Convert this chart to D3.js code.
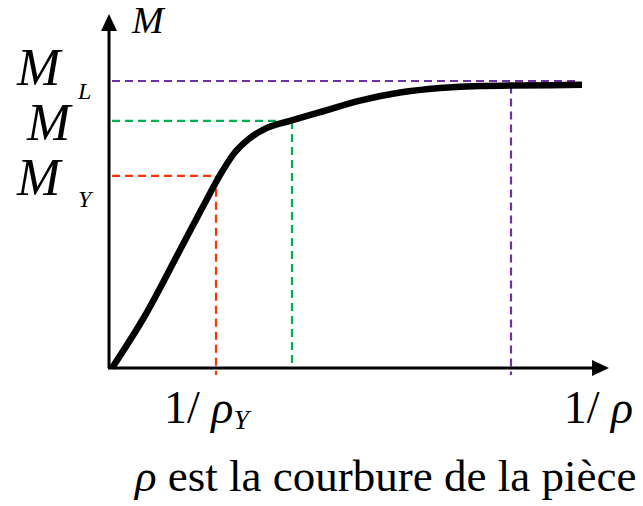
<!DOCTYPE html>
<html>
<head>
<meta charset="utf-8">
<script src="https://cdn.jsdelivr.net/npm/d3@7"></script>
<style>
  body { margin: 0; background: #fff; }
</style>
</head>
<body>
<div id="chart-area"><svg></svg></div>
<script>
const chartSize = { width: 643, height: 506 };

// curve: 1/rho (arbitrary units) vs M (arbitrary units)
const curvature = [0.6, 6.8, 14.2, 19.6, 22.2, 24.8, 28.2, 31.6, 36.2, 42.2, 50.2, 58.2, 66.2, 74.2, 80.4, 94.6];
const moment = [0, 14, 33.7, 48.3, 55.1, 60.9, 65.7, 68.6, 70.6, 73.1, 76.4, 78.7, 80, 80.6, 80.7, 80.9];

// guide lines: yield point, intermediate point, limit moment
const guideNames = ['Y', 'M', 'L'];
const guideX = [21.4, 36.6, 80.4];
const guideY = [54.9, 70.6, 82];
const guideColors = ['#ff3300', '#00b050', '#7030a0'];
const limitEndX = 94.2;

const drawChart = () => {
    const svg = d3.select('#chart-area svg')
        .attr('width', chartSize.width)
        .attr('height', chartSize.height)
        .attr('font-family', '"Liberation Serif", serif');

    const x = d3.scaleLinear().domain([0, 100]).range([109, 609]);
    const y = d3.scaleLinear().domain([0, 100]).range([368, 18]);

    // dashed guides
    guideNames.forEach((name, i) => {
        const endX = name == 'L' ? limitEndX : guideX[i];
        svg.append('line')
            .attr('x1', x(0) + 3).attr('x2', x(endX))
            .attr('y1', y(guideY[i])).attr('y2', y(guideY[i]))
            .attr('stroke', guideColors[i]).attr('stroke-width', 2.2)
            .attr('stroke-dasharray', '8,5');
        const topY = name == 'L' ? y(80.7) : y(guideY[i]);
        svg.append('line')
            .attr('x1', x(guideX[i])).attr('x2', x(guideX[i]))
            .attr('y1', topY).attr('y2', name == 'M' ? y(0) : y(0) + 7)
            .attr('stroke', guideColors[i]).attr('stroke-width', 2.2)
            .attr('stroke-dasharray', '8,5');
    });

    // axes with arrows
    svg.append('line')
        .attr('x1', x(0)).attr('x2', x(0))
        .attr('y1', y(0)).attr('y2', 28)
        .attr('stroke', '#000').attr('stroke-width', 3);
    svg.append('path')
        .attr('d', `M${x(0)},14 L${x(0) - 8},31 L${x(0) + 8},31 Z`)
        .attr('fill', '#000');
    svg.append('line')
        .attr('x1', x(0) - 1).attr('x2', 594)
        .attr('y1', y(0)).attr('y2', y(0))
        .attr('stroke', '#000').attr('stroke-width', 3);
    svg.append('path')
        .attr('d', `M609,${y(0)} L592,${y(0) - 8} L592,${y(0) + 8} Z`)
        .attr('fill', '#000');

    // M - 1/rho curve
    const line = d3.line()
        .x((d, i) => x(curvature[i]))
        .y(d => y(d))
        .curve(d3.curveMonotoneX);
    svg.append('path')
        .datum(moment)
        .attr('d', line)
        .attr('fill', 'none')
        .attr('stroke', '#000')
        .attr('stroke-width', 6.5)
        .attr('stroke-linejoin', 'round');

    // labels
    svg.append('text').attr('x', 132).attr('y', 33)
        .attr('font-size', 38).attr('font-style', 'italic').text('M');

    const bigM = (xx, yy, sub, subY) => {
        svg.append('text').attr('x', xx).attr('y', yy)
            .attr('font-size', 52).attr('font-style', 'italic').text('M');
        if (sub) {
            svg.append('text').attr('x', 78).attr('y', subY)
                .attr('font-size', 24).attr('font-style', 'italic').text(sub);
        }
    };
    bigM(17, 85, 'L', 99);
    bigM(27, 140, null);
    bigM(17, 195, 'Y', 207);

    const rhoY = svg.append('text').attr('x', 164).attr('y', 423).attr('font-size', 46);
    rhoY.append('tspan').text('1/ ');
    rhoY.append('tspan').attr('font-style', 'italic').text('ρ');
    rhoY.append('tspan').attr('font-style', 'italic').attr('font-size', 28).attr('dy', 6).text('Y');

    const rho = svg.append('text').attr('x', 633).attr('y', 423)
        .attr('font-size', 46).attr('text-anchor', 'end');
    rho.append('tspan').text('1/ ');
    rho.append('tspan').attr('font-style', 'italic').text('ρ');

    const caption = svg.append('text').attr('x', 135).attr('y', 491)
        .attr('font-size', 45);
    caption.append('tspan').attr('font-style', 'italic').text('ρ');
    caption.append('tspan').text(' est la courbure de la pièce');
};

window.onload = drawChart;
</script>
</body>
</html>
